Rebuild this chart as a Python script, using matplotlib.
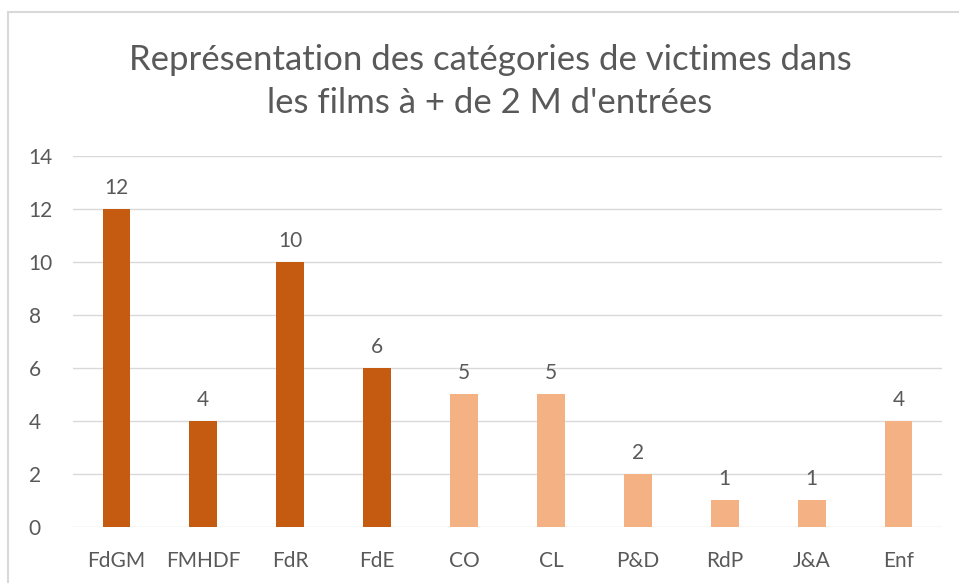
import matplotlib.pyplot as plt
from matplotlib.patches import Rectangle

categories = ["FdGM", "FMHDF", "FdR", "FdE", "CO", "CL", "P&D", "RdP", "J&A", "Enf"]
values = [12, 4, 10, 6, 5, 5, 2, 1, 1, 4]
colors = ["#C55A11"] * 4 + ["#F4B183"] * 6

plt.rcParams['font.family'] = ['Lato', 'DejaVu Sans']
text_col = "#595959"

fig = plt.figure(figsize=(9.59, 5.83), dpi=100)
ax = fig.add_axes([0.0761, 0.0961, 0.9062, 0.6363])

x = range(len(categories))
bars = ax.bar(x, values, width=0.32, color=colors, zorder=3)
for xi, v in zip(x, values):
    ax.text(xi, v + 0.42, str(v), ha="center", va="bottom", fontsize=15, color=text_col)

ax.set_xlim(-0.5, len(categories) - 0.5)
ax.set_ylim(0, 14)
ax.set_yticks(range(0, 15, 2))
ax.set_xticks(list(x))
ax.set_xticklabels(categories)
ax.tick_params(axis="both", length=0, labelsize=15, labelcolor=text_col)
ax.tick_params(axis="x", pad=17)
ax.tick_params(axis="y", pad=32)
for lbl in ax.get_yticklabels():
    lbl.set_horizontalalignment("left")
ax.grid(axis="y", color="#D9D9D9", linewidth=1, zorder=0)
for s in ax.spines.values():
    s.set_visible(False)

fig.text(0.511, 0.925, "Représentation des catégories de victimes dans\nles films à + de 2 M d'entrées",
         ha="center", va="top", fontsize=25, color=text_col, linespacing=1.42)

# chart frame
fig.patches.append(Rectangle((8 / 959, -0.1), 1.1, 1 - 12 / 583 + 0.1, transform=fig.transFigure,
                             fill=False, edgecolor="#D9D9D9", linewidth=1.5))

fig.savefig("out.png", dpi=100)
